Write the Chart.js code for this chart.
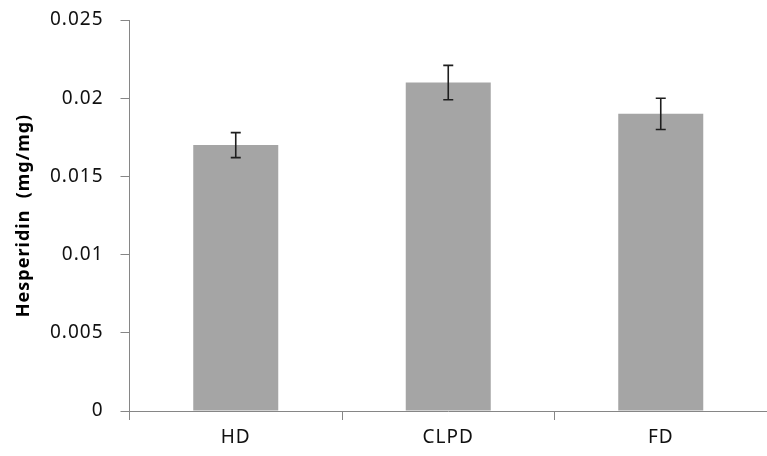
<!DOCTYPE html>
<html>
<head>
<meta charset="utf-8">
<script src="https://cdn.jsdelivr.net/npm/chart.js@4/dist/chart.umd.min.js"></script>
<style>
  html, body { margin: 0; padding: 0; background: #ffffff; overflow: hidden; }
  #wrap { width: 767px; height: 456px; position: relative; }
</style>
</head>
<body>
<div id="wrap"><canvas id="c" width="767" height="456"></canvas></div>
<script>
// Drying methods and measured hesperidin content
const categories = ['HD', 'CLPD', 'FD'];
const hesperidin = [0.017, 0.021, 0.019];
const hesperidinErr = [0.0008, 0.0011, 0.001];
const yTicks = [0, 0.005, 0.01, 0.015, 0.02, 0.025];

const axisGray = '#868686';

// Draws symmetric error bars on top of each bar
const errorBars = {
  id: 'errorBars',
  afterDatasetsDraw(chart) {
    const ctx = chart.ctx;
    const y = chart.scales.y;
    const meta = chart.getDatasetMeta(0);
    ctx.save();
    ctx.strokeStyle = '#1e1e1e';
    ctx.lineWidth = 1.6;
    meta.data.forEach((bar, i) => {
      const v = hesperidin[i], e = hesperidinErr[i];
      const yt = y.getPixelForValue(v + e);
      const yb = y.getPixelForValue(v - e);
      const x = bar.x;
      ctx.beginPath();
      ctx.moveTo(x, yt); ctx.lineTo(x, yb);
      ctx.moveTo(x - 5, yt); ctx.lineTo(x + 5, yt);
      ctx.moveTo(x - 5, yb); ctx.lineTo(x + 5, yb);
      ctx.stroke();
    });
    ctx.restore();
  }
};

// Slightly wider glyph spacing for axis text
const spacing = {
  id: 'spacing',
  beforeDraw(chart) { chart.ctx.letterSpacing = '1px'; }
};

new Chart(document.getElementById('c'), {
  type: 'bar',
  data: {
    labels: categories,
    datasets: [{
      data: hesperidin,
      backgroundColor: '#a5a5a5',
      borderWidth: 0,
      barPercentage: 0.4,
      categoryPercentage: 1.0
    }]
  },
  options: {
    responsive: false,
    animation: false,
    events: [],
    layout: { padding: { top: 20, right: 0, bottom: 0, left: 0 } },
    plugins: { legend: { display: false }, tooltip: { enabled: false } },
    scales: {
      x: {
        grid: {
          offset: true,
          drawOnChartArea: false,
          drawTicks: true,
          tickLength: 9,
          color: axisGray
        },
        border: { display: true, color: axisGray, width: 1 },
        ticks: {
          color: '#111111',
          font: { family: '"Noto Sans", sans-serif', size: 19 },
          padding: 6
        },
        afterFit(scale) {
          scale.height = 45;
          scale.paddingLeft = 0;
          scale.paddingRight = 0;
        }
      },
      y: {
        min: 0,
        max: 0.025,
        afterBuildTicks(scale) { scale.ticks = yTicks.map(v => ({ value: v })); },
        grid: {
          drawOnChartArea: false,
          drawTicks: true,
          tickLength: 9,
          color: axisGray
        },
        border: { display: true, color: axisGray, width: 1 },
        ticks: {
          color: '#111111',
          font: { family: '"Noto Sans", sans-serif', size: 19 },
          padding: 17,
          callback: (v) => String(v)
        },
        title: {
          display: true,
          text: 'Hesperidin  (mg/mg)',
          color: '#000000',
          font: { family: '"Noto Sans", sans-serif', size: 18, weight: 'bold' },
          padding: { top: 13, bottom: 0 }
        },
        afterFit(scale) {
          scale.width = 129.5;
          scale.paddingTop = 0;
          scale.paddingBottom = 0;
        }
      }
    }
  },
  plugins: [spacing, errorBars]
});
</script>
</body>
</html>
